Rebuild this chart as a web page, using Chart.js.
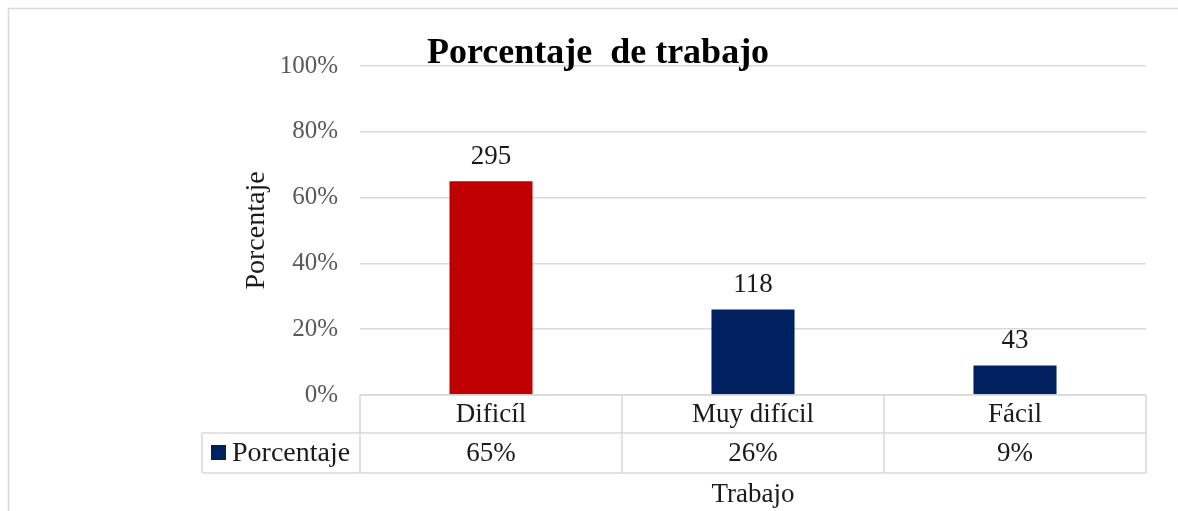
<!DOCTYPE html>
<html lang="es">
<head>
  <meta charset="UTF-8">
  <title>Porcentaje de trabajo</title>
  <script src="https://cdn.jsdelivr.net/npm/chart.js"></script>
  <style>
    html, body { margin: 0; padding: 0; background: #ffffff; }
    #grafico { display: block; }
  </style>
</head>
<body>
  <canvas id="grafico" width="1178" height="511"></canvas>

  <script>
    // datos
    const categorias = ['Dificíl', 'Muy difícil', 'Fácil'];
    const porcentajes = [65, 26, 9];
    const cantidades = [295, 118, 43];
    const coloresBarras = ['#C00000', '#002060', '#002060'];
    const ticksY = [0, 20, 40, 60, 80, 100];
    const nombreSerie = 'Porcentaje';

    const serif = "'Liberation Serif', 'Times New Roman', serif";
    const gris = '#d9d9d9';

    // título, etiquetas, tabla de datos y marco
    const extras = {
      id: 'extras',
      afterDatasetsDraw(chart) {
        const ctx = chart.ctx;
        const meta = chart.getDatasetMeta(0);
        ctx.save();
        ctx.fillStyle = '#1a1a1a';
        ctx.font = '27px ' + serif;
        ctx.textAlign = 'center';
        ctx.textBaseline = 'alphabetic';
        meta.data.forEach((bar, i) => {
          ctx.fillText(String(cantidades[i]), bar.x, bar.y - 17);
        });
        ctx.restore();
      },
      afterDraw(chart) {
        const ctx = chart.ctx;
        const area = chart.chartArea;
        const x = chart.scales.x;
        const paso = (area.right - area.left) / categorias.length;
        const fila0 = area.bottom;
        const fila1 = fila0 + 38;
        const fila2 = fila1 + 40;
        const izqLeyenda = 202;

        ctx.save();
        // marco exterior
        ctx.strokeStyle = gris;
        ctx.lineWidth = 1.5;
        ctx.beginPath();
        ctx.moveTo(8.5, 511);
        ctx.lineTo(8.5, 8.5);
        ctx.lineTo(1178, 8.5);
        ctx.stroke();

        // tabla
        ctx.lineWidth = 1.5;
        ctx.beginPath();
        ctx.moveTo(area.left, fila0);
        ctx.lineTo(area.right, fila0);
        ctx.moveTo(izqLeyenda, fila1);
        ctx.lineTo(area.right, fila1);
        ctx.moveTo(izqLeyenda, fila2);
        ctx.lineTo(area.right, fila2);
        ctx.moveTo(izqLeyenda, fila1);
        ctx.lineTo(izqLeyenda, fila2);
        for (let i = 0; i <= categorias.length; i++) {
          const cx = area.left + paso * i;
          ctx.moveTo(cx, fila0);
          ctx.lineTo(cx, fila2);
        }
        ctx.stroke();

        ctx.fillStyle = '#1a1a1a';
        ctx.font = '27px ' + serif;
        ctx.textAlign = 'center';
        ctx.textBaseline = 'middle';
        categorias.forEach((c, i) => {
          const cx = x.getPixelForValue(i);
          ctx.fillText(c, cx, (fila0 + fila1) / 2 + 1);
          ctx.fillText(porcentajes[i] + '%', cx, (fila1 + fila2) / 2 + 1);
        });

        // leyenda dentro de la tabla
        ctx.fillStyle = '#002060';
        ctx.fillRect(211, 445, 15, 15);
        ctx.fillStyle = '#1a1a1a';
        ctx.textAlign = 'left';
        ctx.font = '28px ' + serif;
        ctx.fillText(nombreSerie, 232, (fila1 + fila2) / 2 + 1);

        // título del eje x
        ctx.font = '27px ' + serif;
        ctx.textAlign = 'center';
        ctx.fillText('Trabajo', (area.left + area.right) / 2, 495);

        // título del gráfico
        ctx.font = 'bold 36px ' + serif;
        ctx.fillStyle = '#000000';
        ctx.textBaseline = 'alphabetic';
        ctx.fillText('Porcentaje  de trabajo', 598, 63);
        ctx.restore();
      }
    };

    new Chart(document.getElementById('grafico'), {
      type: 'bar',
      data: {
        labels: categorias,
        datasets: [{
          label: nombreSerie,
          data: porcentajes,
          backgroundColor: coloresBarras,
          borderWidth: 0,
          categoryPercentage: 1,
          barPercentage: 0.317
        }]
      },
      options: {
        responsive: false,
        animation: false,
        layout: {
          padding: { top: 66, right: 32, bottom: 116, left: 240 }
        },
        scales: {
          x: {
            display: false
          },
          y: {
            min: 0,
            max: 100,
            afterFit(scale) { scale.width = 120; },
            afterBuildTicks(scale) { scale.ticks = ticksY.map(v => ({ value: v })); },
            border: { display: false },
            grid: { color: gris, lineWidth: 1.5, drawTicks: false },
            ticks: {
              padding: 22,
              color: '#595959',
              font: { family: serif, size: 25 },
              callback: v => v + '%'
            },
            title: {
              display: true,
              text: 'Porcentaje',
              color: '#1a1a1a',
              padding: 0,
              font: { family: serif, size: 28 }
            }
          }
        },
        plugins: {
          legend: { display: false },
          tooltip: { enabled: false }
        }
      },
      plugins: [extras]
    });
  </script>
</body>
</html>
